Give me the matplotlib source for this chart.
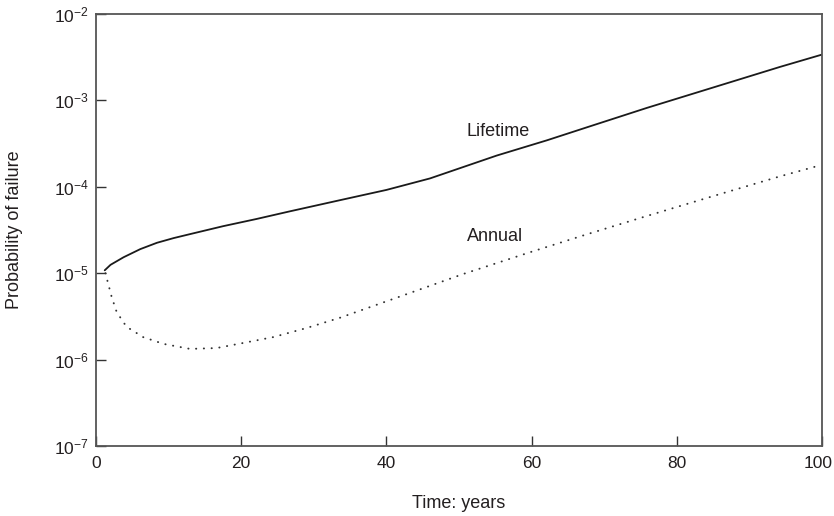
import matplotlib
matplotlib.use("Agg")
import matplotlib.pyplot as plt
from matplotlib.ticker import LogLocator, NullLocator, FixedLocator
from matplotlib.transforms import ScaledTranslation

plt.rcParams["font.family"] = ["Liberation Sans", "DejaVu Sans"]
plt.rcParams["mathtext.fontset"] = "custom"
plt.rcParams["mathtext.rm"] = "Liberation Sans"
plt.rcParams["mathtext.it"] = "Liberation Sans"
plt.rcParams["mathtext.bf"] = "Liberation Sans"

# Cumulative (lifetime) probability of failure
lifetime_years = [1.2, 2.0, 3.8, 6.1, 8.4, 10.7, 13.0, 17.5, 22.1, 26.7, 33.6,
                  40.0, 46.0, 55.2, 62.1, 68.0, 75.9, 85.0, 94.2, 100.0]
lifetime_prob = [1.08e-5, 1.25e-5, 1.53e-5, 1.9e-5, 2.25e-5, 2.55e-5, 2.84e-5,
                 3.5e-5, 4.24e-5, 5.2e-5, 7.0e-5, 9.2e-5, 1.25e-4, 2.3e-4,
                 3.45e-4, 5.0e-4, 8.2e-4, 1.41e-3, 2.44e-3, 3.39e-3]

# Annual probability of failure
annual_years = [1.3, 2.16, 2.85, 4.2, 6.5, 9.3, 12.95, 16.6, 19.8, 24.4, 29.0,
                33.6, 41.4, 50.6, 59.8, 67.5, 75.9, 85.0, 94.2, 99.5]
annual_prob = [1.0e-5, 5.3e-6, 3.55e-6, 2.4e-6, 1.82e-6, 1.52e-6, 1.33e-6,
               1.36e-6, 1.53e-6, 1.82e-6, 2.32e-6, 3.05e-6, 5.2e-6, 9.8e-6,
               1.75e-5, 2.8e-5, 4.6e-5, 7.8e-5, 1.32e-4, 1.75e-4]

x_ticks = [0, 20, 40, 60, 80, 100]

text_color = "#231f20"
spine_color = "#555555"

fig = plt.figure(figsize=(8.34, 5.16), dpi=100)
ax = fig.add_axes([96 / 834, 1 - 446 / 516, 726 / 834, 432 / 516])

ax.plot(lifetime_years, lifetime_prob, color="#1a1a1a", lw=1.3,
        solid_capstyle="round", solid_joinstyle="round")
ax.plot(annual_years, annual_prob, color="#333333", lw=1.4,
        linestyle=(0, (0.1, 3.9)), dash_capstyle="round")

ax.set_yscale("log")
ax.set_xlim(0, 100)
ax.set_ylim(1e-7, 1e-2)
ax.xaxis.set_major_locator(FixedLocator(x_ticks))
ax.xaxis.set_minor_locator(NullLocator())
ax.yaxis.set_major_locator(LogLocator(base=10, numticks=10))
ax.yaxis.set_minor_locator(NullLocator())

ax.tick_params(axis="both", which="major", direction="in", length=7,
               width=1.0, color="#333333", labelsize=12.5,
               labelcolor=text_color, top=False, right=False)
ax.tick_params(axis="x", pad=7)
ax.tick_params(axis="y", pad=5)

for spine in ax.spines.values():
    spine.set_color(spine_color)
    spine.set_linewidth(1.3)

ax.text(51.1, 4.4e-4, "Lifetime", ha="left", va="center", fontsize=13,
        color=text_color)
ax.text(51.1, 2.65e-5, "Annual", ha="left", va="center", fontsize=13,
        color=text_color)

ax.set_xlabel("Time: years", fontsize=13, color=text_color, va="center")
ax.xaxis.set_label_coords(0.5, (446 - 503) / 432)
ax.set_ylabel("Probability of failure", fontsize=13, color=text_color,
              va="center", ha="center")
ax.yaxis.set_label_coords((15 - 96) / 726, 0.5)

# keep the rightmost tick label inside the figure edge
fig.canvas.draw()
last_label = ax.get_xticklabels()[-1]
last_label.set_transform(last_label.get_transform()
                         + ScaledTranslation(-3 / 72, 0, fig.dpi_scale_trans))

fig.savefig("out.png", dpi=100)
